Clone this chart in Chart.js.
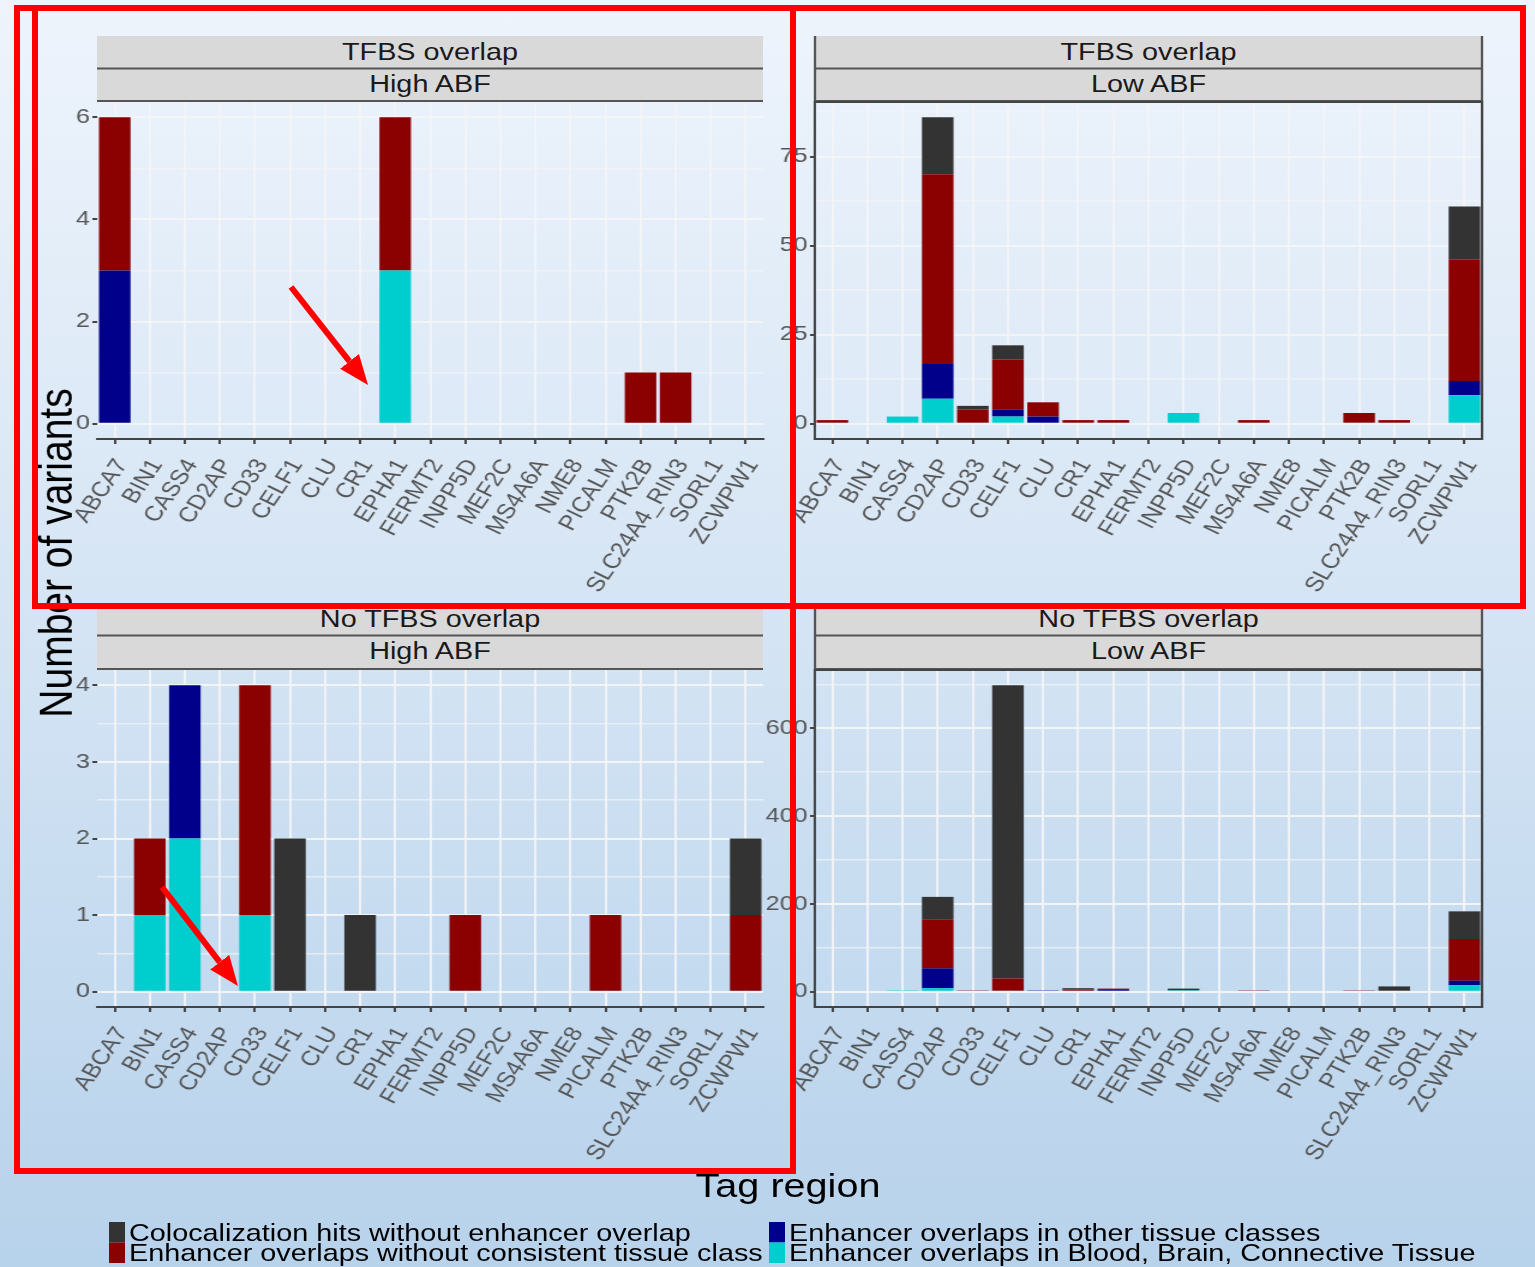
<!DOCTYPE html>
<html>
<head>
<meta charset="utf-8">
<script src="https://cdn.jsdelivr.net/npm/chart.js@4.4.0/dist/chart.umd.min.js"></script>
<style>
  html, body { margin: 0; padding: 0; }
  body {
    width: 1535px; height: 1267px; overflow: hidden; position: relative;
    background: linear-gradient(to bottom, #eef4fc 0%, #d4e4f4 50%, #b7d2eb 100%);
    font-family: 'Liberation Sans', Arial, sans-serif;
  }
  /* the reference picture is stretched sideways, so the plot is drawn narrow and scaled */
  #plot { position: absolute; left: 0; top: 0; width: 1280px; height: 1267px;
          transform: scaleX(1.2); transform-origin: 0 0; }
  #plot canvas { position: absolute; }
  #deco { position: absolute; left: 0; top: 0; }
  #marks { position: absolute; left: 0; top: 0; }
</style>
</head>
<body>
<div id="plot">
  <svg id="deco" width="1280" height="1267"></svg>
</div>
<svg id="marks" width="1535" height="1267">
  <defs>
    <marker id="ah" markerWidth="5" markerHeight="4" refX="0" refY="2" orient="auto" markerUnits="strokeWidth">
      <path d="M0,0 L5,2 L0,4 z" fill="#ff0000"/>
    </marker>
  </defs>
  <g fill="none" stroke="#ff0000" stroke-width="6">
    <rect x="17" y="8" width="776" height="1163"/>
    <rect x="35" y="8" width="758" height="598"/>
    <rect x="793" y="8" width="730" height="598"/>
    <line x1="291" y1="287" x2="349.5" y2="361.4" marker-end="url(#ah)"/>
    <line x1="162" y1="887" x2="219.7" y2="962.2" marker-end="url(#ah)"/>
  </g>
</svg>
<script>
const genes = ['ABCA7','BIN1','CASS4','CD2AP','CD33','CELF1','CLU','CR1','EPHA1','FERMT2',
  'INPP5D','MEF2C','MS4A6A','NME8','PICALM','PTK2B','SLC24A4_RIN3','SORL1','ZCWPW1'];

// stacking order, bottom to top
const classNames = ['Enhancer overlaps in Blood, Brain, Connective Tissue',
  'Enhancer overlaps in other tissue classes',
  'Enhancer overlaps without consistent tissue class',
  'Colocalization hits without enhancer overlap'];
const classColors = ['#00cdcd', '#00008b', '#8b0000', '#333333'];

// TFBS overlap / High ABF
const tfbsHighBlood  = [0,0,0,0,0,0,0,0,3,0,0,0,0,0,0,0,0,0,0];
const tfbsHighOther  = [3,0,0,0,0,0,0,0,0,0,0,0,0,0,0,0,0,0,0];
const tfbsHighNoCons = [3,0,0,0,0,0,0,0,3,0,0,0,0,0,0,1,1,0,0];
const tfbsHighColoc  = [0,0,0,0,0,0,0,0,0,0,0,0,0,0,0,0,0,0,0];

// TFBS overlap / Low ABF
const tfbsLowBlood  = [0,0,2,7,0,2,0,0,0,0,3,0,0,0,0,0,0,0,8];
const tfbsLowOther  = [0,0,0,10,0,2,2,0,0,0,0,0,0,0,0,0,0,0,4];
const tfbsLowNoCons = [1,0,0,53,4,14,4,1,1,0,0,0,1,0,0,3,1,0,34];
const tfbsLowColoc  = [0,0,0,16,1,4,0,0,0,0,0,0,0,0,0,0,0,0,15];

// No TFBS overlap / High ABF
const noTfbsHighBlood  = [0,1,2,0,1,0,0,0,0,0,0,0,0,0,0,0,0,0,0];
const noTfbsHighOther  = [0,0,2,0,0,0,0,0,0,0,0,0,0,0,0,0,0,0,0];
const noTfbsHighNoCons = [0,1,0,0,3,0,0,0,0,0,1,0,0,0,1,0,0,0,1];
const noTfbsHighColoc  = [0,0,0,0,0,2,0,1,0,0,0,0,0,0,0,0,0,0,1];

// No TFBS overlap / Low ABF
const noTfbsLowBlood  = [0,0,3,8,0,0,0,0,0,0,3,0,0,0,0,0,0,0,15];
const noTfbsLowOther  = [0,0,0,45,0,0,3,0,4,0,0,0,0,0,0,0,0,0,10];
const noTfbsLowNoCons = [0,0,0,112,3,30,0,5,3,0,0,0,3,0,0,3,0,0,95];
const noTfbsLowColoc  = [0,0,0,51,0,668,0,3,0,0,4,0,0,0,0,0,12,0,63];

const tfbsHighTicks = [0, 2, 4, 6];
const tfbsHighMinor = [1, 3, 5];
const tfbsLowTicks = [0, 25, 50, 75];
const tfbsLowMinor = [12.5, 37.5, 62.5, 87.5];
const noTfbsHighTicks = [0, 1, 2, 3, 4];
const noTfbsHighMinor = [0.5, 1.5, 2.5, 3.5];
const noTfbsLowTicks = [0, 200, 400, 600];
const noTfbsLowMinor = [100, 300, 500, 700];

const SX = 1.2;
const FONT = "'Liberation Sans', Arial, sans-serif";

const panels = [
  { strip: ['TFBS overlap', 'High ABF'], l: 97, r: 763, t: 102, b: 439, stripTop: 36, framed: false,
    series: [tfbsHighBlood, tfbsHighOther, tfbsHighNoCons, tfbsHighColoc], major: tfbsHighTicks, minor: tfbsHighMinor },
  { strip: ['TFBS overlap', 'Low ABF'], l: 815, r: 1482, t: 102, b: 439, stripTop: 36, framed: true,
    series: [tfbsLowBlood, tfbsLowOther, tfbsLowNoCons, tfbsLowColoc], major: tfbsLowTicks, minor: tfbsLowMinor },
  { strip: ['No TFBS overlap', 'High ABF'], l: 97, r: 763, t: 670, b: 1007, stripTop: 603, framed: false,
    series: [noTfbsHighBlood, noTfbsHighOther, noTfbsHighNoCons, noTfbsHighColoc], major: noTfbsHighTicks, minor: noTfbsHighMinor },
  { strip: ['No TFBS overlap', 'Low ABF'], l: 815, r: 1482, t: 670, b: 1007, stripTop: 603, framed: true,
    series: [noTfbsLowBlood, noTfbsLowOther, noTfbsLowNoCons, noTfbsLowColoc], major: noTfbsLowTicks, minor: noTfbsLowMinor },
];

const framePlugin = {
  id: 'frame',
  afterDraw(chart, args, opts) {
    if (!opts.on) return;
    const a = chart.chartArea, ctx = chart.ctx;
    ctx.save();
    ctx.strokeStyle = '#444';
    ctx.lineWidth = 2;
    ctx.strokeRect(a.left, a.top, a.right - a.left, a.bottom - a.top);
    ctx.restore();
  }
};
Chart.register(framePlugin);

const plot = document.getElementById('plot');
const deco = document.getElementById('deco');
const NS = 'http://www.w3.org/2000/svg';

function svgEl(tag, attrs, text) {
  const el = document.createElementNS(NS, tag);
  for (const k in attrs) el.setAttribute(k, attrs[k]);
  if (text) el.textContent = text;
  deco.appendChild(el);
  return el;
}

function makePanel(p) {
  const l = p.l / SX, r = p.r / SX;
  const padT = 20, padR = 20, yW = 60, xH = 180;
  const w = Math.round(r - l) + yW + padR;
  const h = (p.b - p.t) + padT + xH;

  // facet strips
  const s1 = p.stripTop, s2 = p.stripTop + 32.5, s3 = p.t - 1;
  svgEl('rect', { x: l, y: s1, width: r - l, height: s3 - s1, fill: '#d9d9d9' });
  svgEl('line', { x1: l, x2: r, y1: s2, y2: s2, stroke: '#555', 'stroke-width': 2 });
  svgEl('line', { x1: l, x2: r, y1: s3, y2: s3, stroke: '#555', 'stroke-width': 2 });
  if (p.framed) {
    svgEl('line', { x1: l, x2: l, y1: s1, y2: s3, stroke: '#555', 'stroke-width': 2 });
    svgEl('line', { x1: r, x2: r, y1: s1, y2: s3, stroke: '#555', 'stroke-width': 2 });
  }
  svgEl('text', { x: (l + r) / 2, y: s1 + 24, 'text-anchor': 'middle', 'font-size': 24,
    'font-family': FONT, fill: '#1a1a1a' }, p.strip[0]);
  svgEl('text', { x: (l + r) / 2, y: s2 + 24, 'text-anchor': 'middle', 'font-size': 24,
    'font-family': FONT, fill: '#1a1a1a' }, p.strip[1]);

  const cv = document.createElement('canvas');
  cv.width = w; cv.height = h;
  cv.style.left = (l - yW) + 'px';
  cv.style.top = (p.t - padT) + 'px';
  cv.style.width = w + 'px';
  cv.style.height = h + 'px';
  plot.appendChild(cv);

  const totals = genes.map((g, i) => p.series.reduce((s, d) => s + d[i], 0));
  const top = Math.max(...totals);
  const isMajor = v => p.major.includes(v);
  const allTicks = [...p.major, ...p.minor].sort((a, b) => a - b);

  new Chart(cv, {
    type: 'bar',
    data: {
      labels: genes,
      datasets: p.series.map((d, i) => ({
        label: classNames[i], data: d, backgroundColor: classColors[i],
        borderWidth: 0, barPercentage: 0.9, categoryPercentage: 1
      }))
    },
    options: {
      responsive: false, animation: false, devicePixelRatio: 1,
      layout: { padding: { top: padT, right: padR, left: 0, bottom: 0 } },
      plugins: { legend: { display: false }, tooltip: { enabled: false }, frame: { on: p.framed } },
      scales: {
        x: {
          stacked: true, offset: true,
          grid: { offset: false, color: 'rgba(244,244,246,0.9)', lineWidth: 2, tickLength: 5, tickColor: '#444' },
          border: { display: true, color: '#444', width: 2 },
          ticks: { autoSkip: false, maxRotation: 60, minRotation: 60, padding: 11, labelOffset: 6,
                   color: '#555', font: { family: FONT, size: 21 } },
          afterFit: s => { s.height = xH; }
        },
        y: {
          stacked: true, min: -0.05 * top, max: 1.05 * top,
          afterBuildTicks: s => { s.ticks = allTicks.map(v => ({ value: v })); },
          afterFit: s => { s.width = yW; },
          grid: {
            color: c => (c.tick && isMajor(c.tick.value)) ? 'rgba(244,244,246,0.95)' : 'rgba(244,244,246,0.7)',
            lineWidth: c => (c.tick && isMajor(c.tick.value)) ? 2 : 1.5,
            tickLength: 4,
            tickColor: c => (c.tick && isMajor(c.tick.value)) ? '#444' : 'rgba(0,0,0,0)'
          },
          border: { display: p.framed, color: '#444', width: 2 },
          ticks: { padding: 2, color: '#555', font: { family: FONT, size: 21 },
                   callback: v => isMajor(v) ? String(v) : '' }
        }
      }
    }
  });
}

panels.forEach(makePanel);

// axis titles
svgEl('text', { x: 60, y: 553, 'text-anchor': 'middle', 'font-size': 39, 'font-family': FONT, fill: '#000',
  transform: 'rotate(-90 60 553)' }, 'Number of variants');
svgEl('text', { x: 788 / SX, y: 1197, 'text-anchor': 'middle', 'font-size': 33, 'font-family': FONT, fill: '#000' },
  'Tag region');

// legend, two columns of two rows
const legendOrder = [3, 2, 1, 0];
legendOrder.forEach((ci, k) => {
  const col = Math.floor(k / 2), row = k % 2;
  const sx = (col === 0 ? 109 : 769) / SX;
  const ty = 1222 + row * 20.5;
  svgEl('rect', { x: sx, y: ty, width: 16 / SX, height: 20.5, fill: classColors[ci] });
  svgEl('text', { x: sx + 20 / SX, y: ty + 19, 'font-size': 24, 'font-family': FONT, fill: '#000' }, classNames[ci]);
});
</script>
</body>
</html>
